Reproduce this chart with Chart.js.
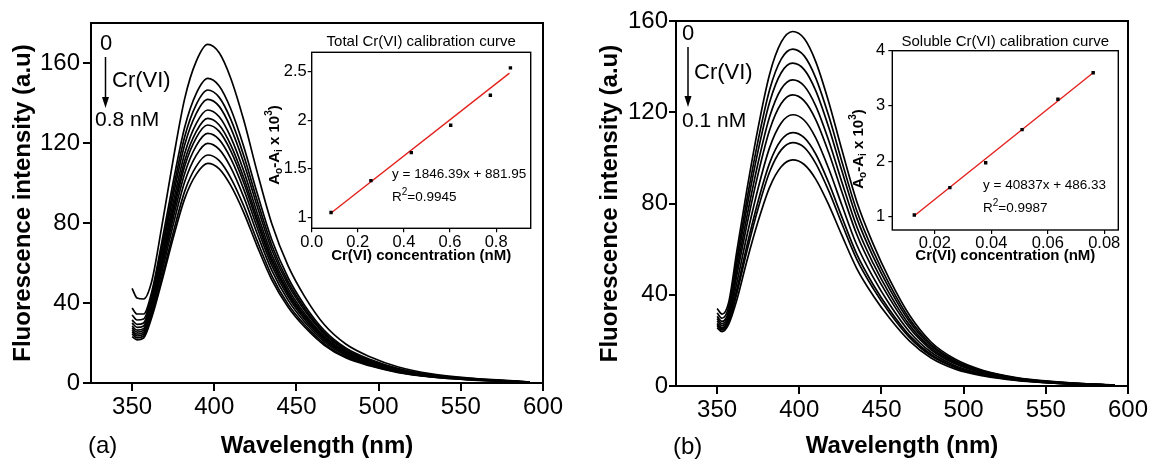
<!DOCTYPE html>
<html>
<head>
<meta charset="utf-8">
<script src="https://cdn.jsdelivr.net/npm/chart.js@4.4.0/dist/chart.umd.min.js"></script>
<style>
  body { margin: 0; background: #fff; }
  #fig { position: relative; width: 1151px; height: 461px; overflow: hidden; background: #fff; }
  #fig canvas { position: absolute; }
</style>
</head>
<body>
<div id="fig">
  <canvas id="mainA" width="575" height="461" style="left:0;top:0"></canvas>
  <canvas id="insetA" width="305" height="240" style="left:255px;top:25px"></canvas>
  <canvas id="mainB" width="576" height="461" style="left:575px;top:0"></canvas>
  <canvas id="insetB" width="315" height="240" style="left:835px;top:25px"></canvas>
</div>
<script>
const FONT = "'Liberation Sans', Arial, sans-serif";

// emission spectra, x = wavelength (nm)
const wavelength = [350, 353, 357, 362, 368, 375, 382, 389, 396, 403, 410, 418, 426, 435, 445, 455, 467, 480, 495, 512, 532, 555, 575, 592];

// (a) total Cr(VI), 0 -> 0.8 nM (top curve first)
const totalSpectra = [
  [47.3, 42.5, 42.0, 51.0, 77.9, 111.7, 142.2, 160.8, 169.3, 165.1, 152.4, 131.2, 105.8, 79.6, 58.4, 43.2, 29.1, 19.5, 13.0, 8.0, 4.6, 2.5, 1.4, 0.5],
  [37.5, 34.5, 34.5, 45.7, 70.1, 100.5, 127.9, 144.7, 152.3, 148.5, 137.1, 118.0, 95.2, 71.6, 52.5, 38.8, 26.2, 17.5, 11.7, 7.2, 4.1, 2.3, 1.2, 0.5],
  [34.0, 31.5, 32.0, 44.0, 67.4, 96.7, 123.1, 139.2, 146.5, 142.8, 131.9, 113.5, 91.6, 68.9, 50.5, 37.4, 25.2, 16.8, 11.3, 6.9, 4.0, 2.2, 1.2, 0.4],
  [31.5, 29.3, 30.0, 42.5, 65.2, 93.6, 119.1, 134.7, 141.8, 138.3, 127.6, 109.9, 88.6, 66.6, 48.9, 36.2, 24.4, 16.3, 10.9, 6.7, 3.8, 2.1, 1.1, 0.4],
  [30.0, 27.8, 28.5, 41.0, 62.8, 90.1, 114.7, 129.7, 136.5, 133.1, 122.9, 105.8, 85.3, 64.2, 47.1, 34.8, 23.5, 15.7, 10.5, 6.4, 3.7, 2.0, 1.1, 0.4],
  [28.5, 26.4, 27.2, 39.7, 60.9, 87.3, 111.1, 125.7, 132.3, 129.0, 119.1, 102.5, 82.7, 62.2, 45.6, 33.7, 22.8, 15.2, 10.2, 6.2, 3.6, 2.0, 1.1, 0.4],
  [27.5, 25.4, 26.3, 38.7, 59.3, 85.1, 108.4, 122.6, 129.0, 125.8, 116.1, 100.0, 80.6, 60.6, 44.5, 32.9, 22.2, 14.8, 9.9, 6.1, 3.5, 1.9, 1.0, 0.4],
  [26.5, 24.4, 25.3, 37.4, 57.4, 82.4, 104.8, 118.6, 124.8, 121.7, 112.3, 96.7, 78.0, 58.7, 43.1, 31.8, 21.5, 14.4, 9.6, 5.9, 3.4, 1.9, 1.0, 0.4],
  [25.5, 23.5, 24.4, 35.9, 55.1, 79.1, 100.6, 113.8, 119.8, 116.8, 107.8, 92.8, 74.9, 56.3, 41.3, 30.5, 20.6, 13.8, 9.2, 5.6, 3.2, 1.8, 1.0, 0.4],
  [24.5, 22.6, 23.5, 34.2, 52.4, 75.2, 95.8, 108.3, 114.0, 111.2, 102.6, 88.4, 71.3, 53.6, 39.3, 29.1, 19.6, 13.1, 8.8, 5.4, 3.1, 1.7, 0.9, 0.3],
  [23.2, 21.6, 22.5, 32.9, 50.5, 72.5, 92.2, 104.3, 109.8, 107.1, 98.8, 85.1, 68.6, 51.6, 37.9, 28.0, 18.9, 12.6, 8.5, 5.2, 3.0, 1.6, 0.9, 0.3]
];

// (b) soluble Cr(VI), 0 -> 0.1 nM
const solubleSpectra = [
  [34.0, 31.5, 36.5, 59.1, 85.5, 113.4, 136.8, 150.7, 155.4, 152.3, 142.2, 124.3, 103.3, 80.8, 62.2, 46.6, 31.1, 19.4, 11.7, 6.8, 3.7, 1.9, 0.9, 0.5],
  [32.0, 29.7, 34.5, 56.1, 81.2, 107.8, 130.0, 143.3, 147.7, 144.7, 135.1, 118.2, 98.2, 76.8, 59.1, 44.3, 29.5, 18.5, 11.1, 6.5, 3.5, 1.8, 0.9, 0.4],
  [30.5, 28.3, 32.8, 53.8, 77.8, 103.3, 124.5, 137.3, 141.5, 138.7, 129.5, 113.2, 94.1, 73.6, 56.6, 42.5, 28.3, 17.7, 10.6, 6.2, 3.4, 1.7, 0.8, 0.4],
  [29.5, 27.4, 31.5, 51.0, 73.8, 98.0, 118.1, 130.2, 134.2, 131.5, 122.8, 107.4, 89.2, 69.8, 53.7, 40.3, 26.8, 16.8, 10.1, 5.9, 3.2, 1.6, 0.8, 0.4],
  [28.5, 26.5, 30.3, 48.5, 70.2, 93.1, 112.3, 123.8, 127.6, 125.0, 116.8, 102.1, 84.9, 66.4, 51.0, 38.3, 25.5, 16.0, 9.6, 5.6, 3.1, 1.5, 0.8, 0.4],
  [27.5, 25.6, 29.2, 45.2, 65.4, 86.8, 104.6, 115.3, 118.9, 116.5, 108.8, 95.1, 79.1, 61.8, 47.6, 35.7, 23.8, 14.9, 8.9, 5.2, 2.9, 1.4, 0.7, 0.4],
  [27.0, 25.1, 28.5, 42.2, 61.1, 81.1, 97.8, 107.8, 111.1, 108.9, 101.7, 88.9, 73.9, 57.8, 44.4, 33.3, 22.2, 13.9, 8.3, 4.9, 2.7, 1.3, 0.7, 0.3],
  [26.3, 24.5, 27.8, 40.5, 58.7, 77.9, 93.9, 103.5, 106.7, 104.6, 97.6, 85.4, 71.0, 55.5, 42.7, 32.0, 21.3, 13.3, 8.0, 4.7, 2.6, 1.3, 0.6, 0.3],
  [25.5, 23.8, 27.0, 37.7, 54.5, 72.3, 87.2, 96.1, 99.1, 97.1, 90.7, 79.3, 65.9, 51.5, 39.6, 29.7, 19.8, 12.4, 7.4, 4.4, 2.4, 1.2, 0.6, 0.3]
];

const spectraXTicks = [350, 400, 450, 500, 550, 600];
const spectraYTicks = [0, 40, 80, 120, 160];

// calibration insets
const totalConc = [0.084, 0.257, 0.432, 0.603, 0.775, 0.862];
const totalSignal = [1.05, 1.378, 1.667, 1.948, 2.258, 2.54];
const totalFitX = [0.084, 0.858];
const totalFitY = [1.045, 2.485];
const totalXTicks = [0, 0.2, 0.4, 0.6, 0.8];
const totalXLabels = ['0.0', '0.2', '0.4', '0.6', '0.8'];
const totalYTicks = [1, 1.5, 2, 2.5];
const totalYLabels = ['1', '1.5', '2', '2.5'];

const solubleConc = [0.0127, 0.0253, 0.038, 0.0509, 0.0636, 0.0761];
const solubleSignal = [1.024, 1.52, 1.97, 2.57, 3.12, 3.60];
const solubleFitX = [0.0127, 0.0761];
const solubleFitY = [1.012, 3.60];
const solubleXTicks = [0.02, 0.04, 0.06, 0.08];
const solubleXLabels = ['0.02', '0.04', '0.06', '0.08'];
const solubleYTicks = [1, 2, 3, 4];
const solubleYLabels = ['1', '2', '3', '4'];

Chart.defaults.font.family = FONT;
Chart.defaults.color = '#000';

function fontOf(r) {
  return (r.bold ? 'bold ' : '') + r.size + 'px ' + FONT;
}

// text made of runs (for sub/superscripts), optionally rotated
function drawRuns(ctx, runs, x, y, align, rotate) {
  ctx.save();
  ctx.translate(x, y);
  if (rotate) ctx.rotate(-Math.PI / 2);
  ctx.textAlign = 'left';
  ctx.textBaseline = 'middle';
  let w = 0;
  runs.forEach(r => { ctx.font = fontOf(r); w += ctx.measureText(r.t).width; });
  let cx = align === 'center' ? -w / 2 : 0;
  runs.forEach(r => {
    ctx.font = fontOf(r);
    ctx.fillText(r.t, cx, r.dy || 0);
    cx += ctx.measureText(r.t).width;
  });
  ctx.restore();
}

const boxPlugin = {
  id: 'box',
  afterDraw(chart, args, opts) {
    const {ctx, chartArea: a} = chart;
    ctx.save();
    ctx.strokeStyle = '#000';
    ctx.lineWidth = opts.width || 2;
    ctx.strokeRect(a.left, a.top, a.right - a.left, a.bottom - a.top);
    ctx.restore();
  }
};

const notesPlugin = {
  id: 'notes',
  afterDraw(chart, args, opts) {
    const {ctx, chartArea: a} = chart;
    ctx.save();
    ctx.fillStyle = '#000';
    ctx.strokeStyle = '#000';
    (opts.texts || []).forEach(n => {
      const x = n.x === 'center' ? (a.left + a.right) / 2 : n.x;
      drawRuns(ctx, n.runs, x, n.y, n.x === 'center' || n.rotate ? 'center' : 'left', n.rotate);
    });
    (opts.arrows || []).forEach(ar => {
      ctx.lineWidth = 1.5;
      ctx.beginPath();
      ctx.moveTo(ar.x, ar.y1);
      ctx.lineTo(ar.x, ar.y2 - 8);
      ctx.stroke();
      ctx.beginPath();
      ctx.moveTo(ar.x - 3.5, ar.y2 - 11);
      ctx.lineTo(ar.x + 3.5, ar.y2 - 11);
      ctx.lineTo(ar.x, ar.y2);
      ctx.closePath();
      ctx.fill();
    });
    ctx.restore();
  }
};

Chart.register(boxPlugin, notesPlugin);

function spectrumChart(id, spectra, yMax, lay, notes) {
  const datasets = spectra.map(vals => ({
    data: vals.map((v, i) => ({x: wavelength[i], y: v})),
    borderColor: '#000',
    borderWidth: 1.7,
    pointRadius: 0,
    fill: false,
    cubicInterpolationMode: 'monotone'
  }));
  return new Chart(document.getElementById(id), {
    type: 'line',
    data: {datasets},
    options: {
      responsive: false,
      animation: false,
      layout: {padding: {left: 0, top: lay.top, right: lay.right, bottom: 0}},
      plugins: {
        legend: {display: false},
        tooltip: {enabled: false},
        box: {width: 2},
        notes
      },
      scales: {
        x: {
          type: 'linear',
          min: 325,
          max: 600,
          afterBuildTicks: s => { s.ticks = spectraXTicks.map(v => ({value: v})); },
          afterFit: s => { s.height = lay.xHeight; },
          border: {display: false},
          grid: {display: true, drawOnChartArea: false, tickLength: 8, lineWidth: 2, color: '#000'},
          ticks: {font: {size: 24}, color: '#000', padding: 2, maxRotation: 0, autoSkip: false},
          title: {display: true, text: 'Wavelength (nm)', color: '#000',
            font: {size: 24, weight: 'bold'}, padding: {top: 0, bottom: lay.xTitlePad}}
        },
        y: {
          type: 'linear',
          min: 0,
          max: yMax,
          afterBuildTicks: s => { s.ticks = spectraYTicks.map(v => ({value: v})); },
          afterFit: s => { s.width = lay.yWidth; },
          border: {display: false},
          grid: {display: true, drawOnChartArea: false, tickLength: lay.tick, lineWidth: 2, color: '#000'},
          ticks: {font: {size: 24}, color: '#000', padding: lay.yTickPad, autoSkip: false},
          title: {display: true, text: 'Fluorescence intensity (a.u)', color: '#000',
            font: {size: 24, weight: 'bold'}, padding: {top: lay.yTitlePad, bottom: 0}}
        }
      }
    }
  });
}

function insetChart(id, cfg) {
  return new Chart(document.getElementById(id), {
    type: 'line',
    data: {
      datasets: [
        {
          data: cfg.x.map((v, i) => ({x: v, y: cfg.y[i]})),
          showLine: false,
          pointStyle: 'rect',
          pointRadius: 2.4,
          pointBackgroundColor: '#000',
          pointBorderWidth: 0,
          borderColor: '#000'
        },
        {
          data: cfg.fitX.map((v, i) => ({x: v, y: cfg.fitY[i]})),
          borderColor: '#e3211c',
          borderWidth: 1.4,
          pointRadius: 0,
          fill: false
        }
      ]
    },
    options: {
      responsive: false,
      animation: false,
      layout: {padding: {left: 0, top: cfg.lay.top, right: cfg.lay.right, bottom: 0}},
      plugins: {
        legend: {display: false},
        tooltip: {enabled: false},
        box: {width: 1.4},
        notes: cfg.notes
      },
      scales: {
        x: {
          type: 'linear',
          min: cfg.xMin,
          max: cfg.xMax,
          afterBuildTicks: s => { s.ticks = cfg.xTicks.map(v => ({value: v})); },
          afterFit: s => { s.height = cfg.lay.xHeight; },
          border: {display: false},
          grid: {display: true, drawOnChartArea: false, tickLength: 4, lineWidth: 1.2, color: '#000'},
          ticks: {font: {size: 16.5}, color: '#000', padding: 0, maxRotation: 0, autoSkip: false,
            callback: (v, i) => cfg.xLabels[i]},
          title: {display: true, text: 'Cr(VI) concentration (nM)', color: '#000',
            font: {size: 15, weight: 'bold'}, padding: {top: 0, bottom: 0}}
        },
        y: {
          type: 'linear',
          min: cfg.yMin,
          max: cfg.yMax,
          afterBuildTicks: s => { s.ticks = cfg.yTicks.map(v => ({value: v})); },
          afterFit: s => { s.width = cfg.lay.yWidth; },
          border: {display: false},
          grid: {display: true, drawOnChartArea: false, tickLength: 4, lineWidth: 1.2, color: '#000'},
          ticks: {font: {size: 16.5}, color: '#000', padding: cfg.lay.yTickPad, autoSkip: false,
            callback: (v, i) => cfg.yLabels[i]}
        }
      }
    }
  });
}

function yTitleRuns() {
  return [
    {t: 'A', size: 15, bold: true},
    {t: 'o', size: 10, bold: true, dy: 4},
    {t: '-A', size: 15, bold: true},
    {t: 'i', size: 10, bold: true, dy: 4},
    {t: ' x 10', size: 15, bold: true},
    {t: '3', size: 10, bold: true, dy: -6},
    {t: ')', size: 15, bold: true}
  ];
}

spectrumChart('mainA', totalSpectra, 180,
  {top: 23, right: 32, xHeight: 78, yWidth: 91, tick: 8, yTickPad: 3, yTitlePad: 8.6, xTitlePad: 0.6},
  {
    texts: [
      {x: 100, y: 43.5, runs: [{t: '0', size: 22}]},
      {x: 112, y: 81, runs: [{t: 'Cr(VI)', size: 22}]},
      {x: 95, y: 120, runs: [{t: '0.8 nM', size: 21}]},
      {x: 88, y: 446, runs: [{t: '(a)', size: 24}]}
    ],
    arrows: [{x: 105.5, y1: 57, y2: 108}]
  });

spectrumChart('mainB', solubleSpectra, 160,
  {top: 21, right: 23, xHeight: 75, yWidth: 101, tick: 7, yTickPad: 1, yTitlePad: 20.6, xTitlePad: 0},
  {
    texts: [
      {x: 107, y: 34, runs: [{t: '0', size: 22}]},
      {x: 119, y: 73, runs: [{t: 'Cr(VI)', size: 22}]},
      {x: 107, y: 121, runs: [{t: '0.1 nM', size: 21}]},
      {x: 98, y: 447, runs: [{t: '(b)', size: 24}]}
    ],
    arrows: [{x: 113, y1: 47, y2: 107}]
  });

insetChart('insetA', {
  x: totalConc, y: totalSignal, fitX: totalFitX, fitY: totalFitY,
  xMin: 0, xMax: 0.95, yMin: 0.887, yMax: 2.7,
  xTicks: totalXTicks, xLabels: totalXLabels, yTicks: totalYTicks, yLabels: totalYLabels,
  lay: {top: 27.3, right: 29.3, xHeight: 36.7, yWidth: 56.7, yTickPad: 1},
  notes: {
    texts: [
      {x: 'center', y: 16.5, runs: [{t: 'Total Cr(VI) calibration curve', size: 15}]},
      {x: 137, y: 149, runs: [{t: 'y = 1846.39x + 881.95', size: 13.5}]},
      {x: 137, y: 172, runs: [{t: 'R', size: 13.5}, {t: '2', size: 10, dy: -5}, {t: '=0.9945', size: 13.5}]},
      {x: 20, y: 120, rotate: true, runs: yTitleRuns()}
    ]
  }
});

insetChart('insetB', {
  x: solubleConc, y: solubleSignal, fitX: solubleFitX, fitY: solubleFitY,
  xMin: 0.0049, xMax: 0.085, yMin: 0.753, yMax: 4,
  xTicks: solubleXTicks, xLabels: solubleXLabels, yTicks: solubleYTicks, yLabels: solubleYLabels,
  lay: {top: 25.7, right: 31.7, xHeight: 35, yWidth: 57.3, yTickPad: 3},
  notes: {
    texts: [
      {x: 'center', y: 16.5, runs: [{t: 'Soluble Cr(VI) calibration curve', size: 15}]},
      {x: 148, y: 160.5, runs: [{t: 'y = 40837x + 486.33', size: 13.5}]},
      {x: 148, y: 183, runs: [{t: 'R', size: 13.5}, {t: '2', size: 10, dy: -5}, {t: '=0.9987', size: 13.5}]},
      {x: 24, y: 124, rotate: true, runs: yTitleRuns()}
    ]
  }
});
</script>
</body>
</html>
